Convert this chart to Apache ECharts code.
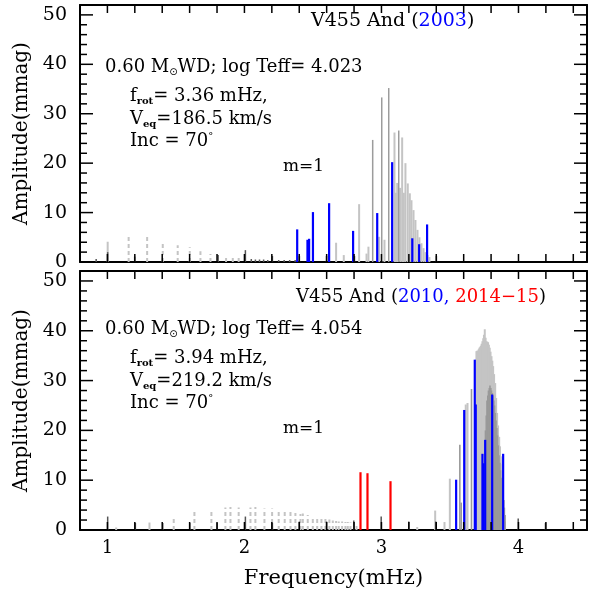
<!DOCTYPE html>
<html>
<head>
<meta charset="utf-8">
<script src="https://cdn.jsdelivr.net/npm/echarts@6/dist/echarts.min.js"></script>
<style>
  html, body { margin: 0; padding: 0; background: #fff; }
  #main { width: 597px; height: 590px; }
</style>
</head>
<body>
<div id="main"></div>
<script>
// ---- panel 1 : V455 And (2003) ----  [frequency mHz, amplitude mmag]
var obs2003 = [[2.385, 6.6], [2.460, 4.5], [2.472, 4.7], [2.500, 10.1], [2.618, 11.9], [2.793, 6.3],
  [2.969, 9.9], [3.078, 20.2], [3.225, 4.8], [3.275, 3.6], [3.333, 7.6]];
var light2003 = [[1.002, 4.1], [2.669, 3.9], [2.725, 1.4], [2.837, 11.7], [2.891, 1.7], [2.905, 3.1],
  [2.983, 5.1], [3.022, 4.5], [3.095, 26.2], [3.105, 14.0], [3.115, 16.0], [3.137, 15.0], [3.151, 25.2],
  [3.163, 14.0], [3.175, 20.0], [3.192, 15.9], [3.207, 13.9], [3.219, 12.5], [3.234, 10.5], [3.248, 8.5],
  [3.263, 6.5], [3.277, 5.0], [3.292, 3.8], [3.307, 2.8], [3.321, 2.0], [3.336, 1.4], [3.350, 1.0]];
var mid2003 = [[2.936, 24.7], [3.002, 33.3], [3.053, 35.2], [3.126, 26.6]];
var dash2003 = [[1.155, 5.3], [1.290, 5.1], [1.404, 3.9], [1.513, 3.4], [1.601, 3.0], [1.679, 2.2],
  [1.752, 1.6], [1.866, 1.2], [1.915, 1.1], [1.958, 1.0]];
var dark2003 = [[0.918, 0.6], [1.002, 2.0], [1.199, 1.1], [1.808, 1.4], [2.007, 2.4], [2.050, 0.6],
  [2.080, 0.5], [2.110, 0.5], [2.140, 0.5], [2.170, 0.4], [2.204, 1.2], [2.250, 0.4], [2.290, 0.4],
  [2.330, 0.4], [2.370, 0.4], [2.401, 1.2], [2.599, 1.2], [2.803, 1.2], [3.401, 1.2]];

// ---- panel 2 : V455 And (2010, 2014-15) ----
var obs2010 = [[3.545, 10.1], [3.604, 24.1], [3.681, 34.2], [3.688, 25.2], [3.737, 15.3], [3.745, 13.4],
  [3.757, 18.1], [3.808, 27.2], [3.888, 15.3]];
var obs2014 = [[2.847, 11.6], [2.898, 11.4], [3.066, 9.8]];
var light2010 = [[1.064, 0.5], [1.307, 1.5], [3.261, 0.6], [3.392, 3.9], [3.460, 1.6], [3.499, 10.3],
  [3.615, 25.2], [3.628, 25.5], [3.693, 35.9], [3.699, 36.0], [3.704, 36.0], [3.710, 36.3], [3.715, 36.6],
  [3.721, 36.8], [3.726, 37.0], [3.731, 37.4], [3.737, 37.9], [3.743, 38.5], [3.748, 39.2], [3.754, 40.3],
  [3.760, 38.6], [3.766, 37.9], [3.772, 37.8], [3.778, 37.7], [3.784, 37.2], [3.790, 36.6], [3.796, 35.8],
  [3.803, 34.9], [3.809, 34.0], [3.815, 32.9], [3.822, 31.3], [3.830, 29.5], [3.837, 26.5], [3.844, 23.5],
  [3.851, 21.0], [3.859, 18.7], [3.865, 16.8], [3.871, 14.8], [3.877, 13.2], [3.883, 11.7], [3.892, 6.0],
  [3.900, 1.7]];
var mid2010 = [[3.572, 17.1], [3.582, 5.5], [3.657, 28.3], [3.759, 20.0], [3.765, 23.0], [3.770, 26.0],
  [3.776, 27.0], [3.781, 28.0], [3.787, 28.5], [3.792, 29.0], [3.798, 28.5], [3.803, 28.0], [3.809, 27.5],
  [3.814, 27.0], [3.820, 26.0], [3.825, 25.0], [3.831, 23.5], [3.836, 22.0], [3.842, 20.5], [3.847, 19.0],
  [3.853, 17.0], [3.858, 15.0], [3.864, 13.5], [3.869, 12.0], [3.875, 10.5], [3.880, 9.0], [3.886, 7.5],
  [3.891, 6.0], [3.897, 4.5], [3.902, 3.0]];
var dash2010 = [[1.484, 2.7], [1.635, 3.6], [1.759, 3.8], [1.861, 4.5], [1.898, 4.6], [1.958, 4.5],
  [2.044, 4.5], [2.080, 4.6], [2.146, 4.3], [2.202, 4.3], [2.250, 4.1], [2.294, 4.0], [2.336, 3.6],
  [2.372, 3.4], [2.409, 3.2], [2.426, 3.3], [2.462, 3.0], [2.499, 2.6], [2.531, 2.6], [2.562, 2.4],
  [2.591, 2.2], [2.620, 2.1], [2.645, 1.9], [2.669, 1.8], [2.688, 1.7], [2.713, 1.7], [2.737, 1.6],
  [2.754, 1.6], [2.774, 1.5], [2.818, 1.4]];
var dark2010 = [[1.002, 2.7], [1.204, 1.4], [1.404, 1.4], [1.601, 1.4], [1.801, 1.4], [2.007, 2.7],
  [2.204, 1.4], [2.401, 1.7], [2.599, 1.7], [2.798, 1.9], [2.998, 2.7], [3.199, 1.7], [3.396, 1.7],
  [3.998, 2.3], [4.197, 1.4]];

// ---- axes ----
var xRange = [0.8, 4.5];
var yRange = [0, 52];
var xTickValues = [1.0, 1.2, 1.4, 1.6, 1.8, 2.0, 2.2, 2.4, 2.6, 2.8, 3.0, 3.2, 3.4, 3.6, 3.8, 4.0, 4.2, 4.4];
var xTickLabels = [1, 2, 3, 4];
var yTickValues = [2, 4, 6, 8, 10, 12, 14, 16, 18, 20, 22, 24, 26, 28, 30, 32, 34, 36, 38, 40, 42, 44, 46, 48, 50];
var yTickLabels = [0, 10, 20, 30, 40, 50];

var SERIF = 'DejaVu Serif';

function sticks(data, xi, yi, color, width, dash) {
  return {
    type: 'custom', xAxisIndex: xi, yAxisIndex: yi, data: data, silent: true,
    encode: { x: 0, y: 1 },
    renderItem: function (params, api) {
      var p0 = api.coord([api.value(0), 0]);
      var p1 = api.coord([api.value(0), api.value(1)]);
      return {
        type: 'line',
        shape: { x1: p0[0], y1: p0[1], x2: p1[0], y2: p1[1] },
        style: { stroke: color, lineWidth: width, lineDash: dash || null }
      };
    }
  };
}

function xAxes(gi, withLabels) {
  function base() {
    return {
      type: 'value', gridIndex: gi, min: xRange[0], max: xRange[1], interval: 0.2,
      splitLine: { show: false },
      axisLine: { show: true, onZero: false, lineStyle: { color: '#000', width: 2 } },
      axisTick: { show: false }
    };
  }
  var bottom = Object.assign(base(), {
    position: 'bottom',
    axisLabel: {
      show: withLabels, margin: 9, color: '#000', fontFamily: SERIF, fontSize: 18,
      formatter: function (v) {
        var r = Math.round(v);
        return Math.abs(v - r) < 1e-6 && xTickLabels.indexOf(r) >= 0 ? String(r) : '';
      }
    },
    name: withLabels ? 'Frequency(mHz)' : '', nameLocation: 'middle', nameGap: 38,
    nameTextStyle: { color: '#000', fontFamily: SERIF, fontSize: 21 }
  });
  var top = Object.assign(base(), { position: 'top', axisLabel: { show: false } });
  return [bottom, top];
}

function yAxes(gi) {
  function base() {
    return {
      type: 'value', gridIndex: gi, min: yRange[0], max: yRange[1], interval: 10,
      splitLine: { show: false },
      axisLine: { show: true, onZero: false, lineStyle: { color: '#000', width: 2 } },
      axisTick: { show: false }
    };
  }
  return [
    Object.assign(base(), {
      position: 'left',
      axisLabel: { margin: 13, color: '#000', fontFamily: SERIF, fontSize: 19, showMaxLabel: false,
        formatter: function (v) { return yTickLabels.indexOf(v) >= 0 ? String(v) : ''; } },
      name: 'Amplitude(mmag)', nameLocation: 'middle', nameGap: 43,
      nameTextStyle: { color: '#000', fontFamily: SERIF, fontSize: 20 }
    }),
    Object.assign(base(), { position: 'right', axisLabel: { show: false } })
  ];
}

var rich = {
  n: { fontFamily: SERIF, fontSize: 18, lineHeight: 22, fill: '#000', color: '#000', verticalAlign: 'middle' },
  m: { fontFamily: SERIF, fontSize: 17, lineHeight: 22, fill: '#000', color: '#000', verticalAlign: 'middle' },
  t: { fontFamily: SERIF, fontSize: 19, lineHeight: 24, fill: '#000', color: '#000', verticalAlign: 'middle' },
  b: { fontFamily: SERIF, fontSize: 19, lineHeight: 24, fill: '#0000ff', color: '#0000ff', verticalAlign: 'middle' },
  t2: { fontFamily: SERIF, fontSize: 18, lineHeight: 24, fill: '#000', color: '#000', verticalAlign: 'middle' },
  b2: { fontFamily: SERIF, fontSize: 18, lineHeight: 24, fill: '#0000ff', color: '#0000ff', verticalAlign: 'middle' },
  r2: { fontFamily: SERIF, fontSize: 18, lineHeight: 24, fill: '#ff0000', color: '#ff0000', verticalAlign: 'middle' },
  s: { fontFamily: SERIF, fontSize: 10, fontWeight: 'bold', lineHeight: 12, padding: [10, 0, 0, 0], fill: '#000', color: '#000', verticalAlign: 'middle' },
  o: { fontFamily: 'DejaVu Sans', fontSize: 10, lineHeight: 12, padding: [10, 0, 0, 0], fill: '#000', color: '#000', verticalAlign: 'middle' },
  d: { fontFamily: SERIF, fontSize: 10, lineHeight: 12, padding: [0, 0, 10, 0], fill: '#000', color: '#000', verticalAlign: 'middle' }
};

function note(x, y, text) {
  return { type: 'text', x: x, y: y, z: 20, silent: true,
    style: { text: text, rich: rich, fill: '#000', fontFamily: SERIF, fontSize: 18, verticalAlign: 'middle', align: 'left' } };
}

function panelNotes(dy, teff, frot, veq) {
  return [
    note(105, 67 + dy, '{n|0.60 M}{o|⊙}{n|WD; log Teff= ' + teff + '}'),
    note(130, 96 + dy, '{n|f}{s|rot}{n|= ' + frot + ' mHz,}'),
    note(130, 119 + dy, '{n|V}{s|eq}{n|=' + veq + ' km/s}'),
    note(130, 141 + dy, '{n|Inc = 70}{d|°}'),
    note(283, 167 + dy, '{m|m=1}')
  ];
}

var graphics = [
  note(311, 21, '{t|V455 And (}{b|2003}{t|)}'),
  note(296, 297, '{t2|V455 And (}{b2|2010,}{t2| }{r2|2014−15}{t2|)}')
].concat(panelNotes(0, '4.023', '3.36', '186.5'), panelNotes(262, '4.054', '3.94', '219.2'));

var chart = echarts.init(document.getElementById('main'), null, { renderer: 'canvas' });
chart.setOption({
  animation: false,
  backgroundColor: '#fff',
  grid: [
    { left: 80, right: 10, top: 5, height: 257 },
    { left: 80, right: 10, top: 271, height: 259 }
  ],
  xAxis: xAxes(0, false).concat(xAxes(1, true)),
  yAxis: yAxes(0).concat(yAxes(1)),
  series: [
    sticks(dash2003, 0, 0, '#c4c4c4', 2, [4, 3]),
    sticks(light2003, 0, 0, '#c4c4c4', 2),
    sticks(mid2003, 0, 0, '#9c9c9c', 1.5),
    sticks(dark2003, 0, 0, '#555555', 1.5),
    sticks(obs2003, 0, 0, '#0000ff', 2.2),
    sticks(dash2010, 2, 2, '#c4c4c4', 2, [4, 3]),
    sticks(light2010, 2, 2, '#c4c4c4', 2),
    sticks(mid2010, 2, 2, '#999999', 1.6),
    sticks(dark2010, 2, 2, '#555555', 1.5),
    sticks(obs2010, 2, 2, '#0000ff', 2.2),
    sticks(obs2014, 2, 2, '#ff0000', 2.2)
  ],
  graphic: graphics
});

// inward frame ticks on all four sides, positioned through each grid's axis scales
function tickLine(x1, y1, x2, y2) {
  return { type: 'line', z: 100, silent: true,
    shape: { x1: x1, y1: y1, x2: x2, y2: y2 },
    style: { stroke: '#000', lineWidth: 1.5 } };
}
var tickEls = [];
[0, 1].forEach(function (gi) {
  xTickValues.forEach(function (v) {
    var a = chart.convertToPixel({ gridIndex: gi }, [v, yRange[0]]);
    var b = chart.convertToPixel({ gridIndex: gi }, [v, yRange[1]]);
    tickEls.push(tickLine(a[0], a[1], a[0], a[1] - 8));
    tickEls.push(tickLine(b[0], b[1], b[0], b[1] + 8));
  });
  yTickValues.forEach(function (v) {
    var a = chart.convertToPixel({ gridIndex: gi }, [xRange[0], v]);
    var b = chart.convertToPixel({ gridIndex: gi }, [xRange[1], v]);
    var len = v % 10 === 0 ? 13 : 7;
    tickEls.push(tickLine(a[0], a[1], a[0] + len, a[1]));
    tickEls.push(tickLine(b[0], b[1], b[0] - len, b[1]));
  });
});
chart.setOption({ graphic: graphics.concat(tickEls) });
</script>
</body>
</html>
